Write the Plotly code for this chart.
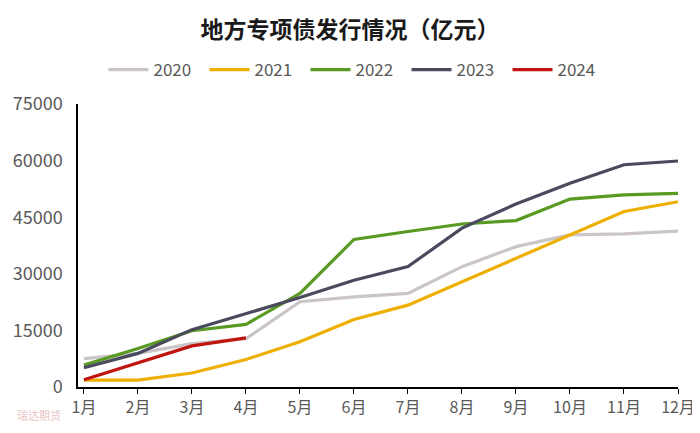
import plotly.graph_objects as go

months = ["1月", "2月", "3月", "4月", "5月", "6月", "7月", "8月", "9月", "10月", "11月", "12月"]
y2020 = [7500, 8900, 11500, 12800, 22600, 23900, 24800, 31900, 37200, 40300, 40600, 41300]
y2021 = [1800, 1800, 3700, 7300, 12000, 17900, 21700, 27900, 34100, 40300, 46500, 49100]
y2022 = [5800, 10200, 14900, 16600, 24800, 39100, 41200, 43200, 44100, 49800, 50900, 51300]
y2023 = [5100, 8900, 15200, 19500, 23700, 28300, 31900, 42100, 48500, 54000, 58900, 59900]
y2024 = [1900, 6400, 10900, 13000]

series = [
    ("2020", y2020, "#CBC5C8"),
    ("2021", y2021, "#EEB000"),
    ("2022", y2022, "#589A22"),
    ("2023", y2023, "#4A4A5E"),
    ("2024", y2024, "#C0150F"),
]

fig = go.Figure()
for name, vals, color in series:
    fig.add_trace(go.Scatter(
        x=list(range(len(vals))), y=vals, name=name, mode="lines",
        line=dict(color=color, width=3.2),
    ))

W, H = 692, 425   # page body has an 8px offset
L, R, T, B = 70, 22, 96, 46
PW = W - L - R
font_family = "Noto Sans CJK SC, Noto Sans, sans-serif"
fig.update_layout(
    width=W, height=H,
    margin=dict(l=L, r=R, t=T, b=B),
    paper_bgcolor="white", plot_bgcolor="white",
    font=dict(family=font_family, color="#595959", size=15),
    title=dict(text="<b>地方专项债发行情况（亿元）</b>", x=(350 - 8 - L) / PW, xanchor="center",
               xref="paper", y=1 - 22 / H, yref="container", yanchor="middle",
               font=dict(size=23, color="#1a1a1a")),
    legend=dict(orientation="h", xref="paper", x=(356 - 8 - L) / PW, xanchor="center",
                y=1 + (T - 62) / 283, yanchor="middle",
                font=dict(size=17, color="#595959"),
                itemwidth=40, traceorder="normal",
                entrywidth=46, entrywidthmode="pixels"),
    showlegend=True,
)
fig.update_xaxes(
    tickmode="array", tickvals=list(range(12)), ticktext=months,
    range=[-0.11, 11], showgrid=False, zeroline=False, automargin=False,
    showline=True, linecolor="#000000", linewidth=1.5,
    ticks="outside", ticklen=5, tickcolor="#000000",
    tickfont=dict(size=16, color="#595959"),
)
fig.update_yaxes(
    range=[0, 75000], tickvals=[0, 15000, 30000, 45000, 60000, 75000],
    tickformat="d", showgrid=False, zeroline=False, automargin=False,
    showline=True, linecolor="#000000", linewidth=1.5,
    ticks="", ticklabelstandoff=10, tickfont=dict(size=18, color="#595959"),
)
fig.add_annotation(text="瑞达期货", xref="paper", yref="paper", x=-0.105, y=-0.1,
                   xanchor="left", yanchor="middle", showarrow=False,
                   font=dict(size=11, color="rgba(220,150,150,0.6)"))
fig.write_html("out.html")
